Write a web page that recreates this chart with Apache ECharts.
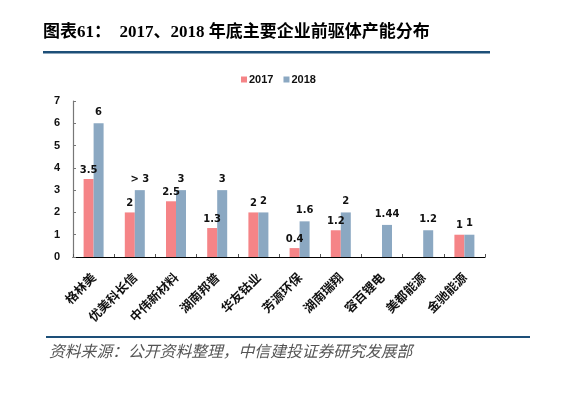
<!DOCTYPE html>
<html>
<head>
<meta charset="utf-8">
<script src="https://cdn.jsdelivr.net/npm/echarts@6/dist/echarts.min.js"></script>
<style>
  html, body { margin: 0; padding: 0; background: #fff; }
  #main { width: 565px; height: 398px; }
</style>
</head>
<body>
<div id="main"></div>
<script>
var categories = ['格林美', '优美科长信', '中伟新材料', '湖南邦普', '华友钴业', '芳源环保', '湖南瑞翔', '容百锂电', '美都能源', '金驰能源'];
var cap2017 = [3.5, 2, 2.5, 1.3, 2, 0.4, 1.2, null, null, 1];
var cap2018 = [6, 3, 3, 3, 2, 1.6, 2, 1.44, 1.2, 1];
var labels2017 = ['3.5', '2', '2.5', '1.3', '2', '0.4', '1.2', '', '', '1'];
var labels2018 = ['6', '> 3', '3', '3', '2', '1.6', '2', '1.44', '1.2', '1'];

var chart = echarts.init(document.getElementById('main'));
var lblFont = { fontFamily: 'DejaVu Sans', fontWeight: 'bold', fontSize: 10, color: '#111' };

chart.setOption({
    animation: false,
    backgroundColor: '#fff',
    graphic: [
        { type: 'text', left: 43, top: 24, style: { text: '图表61：  2017、2018 年底主要企业前驱体产能分布', font: 'bold 17px "Liberation Serif", "Noto Sans CJK SC"', fill: '#000' } },
        { type: 'rect', shape: { x: 43, y: 51, width: 447, height: 2.5 }, style: { fill: '#1d4f78' } },
        { type: 'rect', shape: { x: 46, y: 336, width: 484, height: 2 }, style: { fill: '#1d4f78' } },
        { type: 'text', left: 49, top: 343, style: { text: '资料来源：公开资料整理，中信建投证券研究发展部', font: 'italic 15.8px "Noto Sans CJK SC"', fill: '#555' } }
    ],
    legend: {
        top: 69, left: 236,
        itemWidth: 6, itemHeight: 6, itemGap: 10,
        icon: 'rect',
        textStyle: { fontFamily: 'Liberation Sans', fontWeight: 'bold', fontSize: 11, color: '#111', padding: [0, 0, 0, -3] },
        data: ['2017', '2018']
    },
    grid: { left: 73, right: 80, top: 101, bottom: 141 },
    xAxis: {
        type: 'category',
        data: categories,
        axisLine: { lineStyle: { color: '#000', width: 1.2 } },
        axisTick: { show: true, inside: true, length: 3, lineStyle: { color: '#555' } },
        axisLabel: { rotate: 45, interval: 0, margin: 18, fontFamily: 'Noto Sans CJK SC', fontWeight: 'bold', fontSize: 12.5, color: '#111' }
    },
    yAxis: {
        type: 'value',
        min: 0, max: 7, interval: 1,
        splitLine: { show: false },
        axisLine: { show: true, lineStyle: { color: '#777', width: 1.2 } },
        axisTick: { show: true, inside: true, length: 3, lineStyle: { color: '#777' } },
        axisLabel: { margin: 13, fontFamily: 'Liberation Sans', fontWeight: 'bold', fontSize: 11, color: '#111' }
    },
    series: [
        {
            name: '2017', type: 'bar', data: cap2017,
            barWidth: 10, barGap: '0%',
            itemStyle: { color: '#f58487' },
            label: {
                show: true, position: 'top', distance: 4,
                formatter: function (p) { return labels2017[p.dataIndex]; },
                fontFamily: lblFont.fontFamily, fontWeight: lblFont.fontWeight, fontSize: lblFont.fontSize, color: lblFont.color
            }
        },
        {
            name: '2018', type: 'bar', data: cap2018,
            barWidth: 10,
            itemStyle: { color: '#8ba8c2' },
            label: {
                show: true, position: 'top', distance: 6,
                formatter: function (p) { return labels2018[p.dataIndex]; },
                fontFamily: lblFont.fontFamily, fontWeight: lblFont.fontWeight, fontSize: lblFont.fontSize, color: lblFont.color
            }
        }
    ]
});
</script>
</body>
</html>
